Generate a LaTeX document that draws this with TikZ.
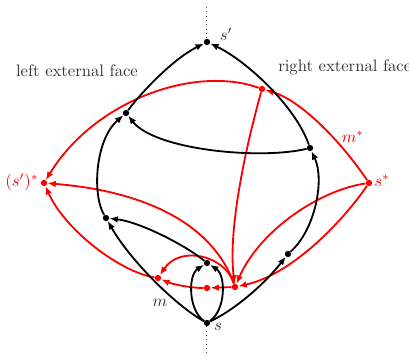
\documentclass[tikz,border=0pt]{standalone}
\usetikzlibrary{arrows.meta}
\begin{document}
\begin{tikzpicture}[x=0.6pt,y=-0.6pt,
  bdot/.style={circle,fill=black,inner sep=0pt,minimum size=3.8pt},
  rdot/.style={circle,fill=red,inner sep=0pt,minimum size=3.8pt},
  bedge/.style={line width=1.1pt,-{Latex[length=5pt,width=4pt]}},
  redge/.style={red,line width=1.1pt,-{Latex[length=5pt,width=4pt]}},
  lbl/.style={text=black!80,inner sep=0pt},
  rlbl/.style={text=red,inner sep=0pt}]
\useasboundingbox (0,0) rectangle (409,356);
% red vertices
\node[rdot] (Ss) at (369,183) {};
\node[rdot] (Sps) at (44,183) {};
\node[rdot] (R1) at (262,89) {};
\node[rdot] (R2) at (235,287) {};
\node[rdot] (R3) at (207,288) {};
\node[rdot] (R4) at (158,278) {};
% black vertices
\node[bdot] (s) at (207,323) {};
\node[bdot] (sp) at (207,42) {};
\node[bdot] (A) at (106,218) {};
\node[bdot] (B) at (126,113) {};
\node[bdot] (C) at (310,148) {};
\node[bdot] (D) at (288,254) {};
\node[bdot] (E) at (207,263) {};
\coordinate (bot) at (207,356);
\coordinate (top) at (207,4);
% dotted axis
\draw[dotted,black!70,line width=0.6pt] (s) -- (bot);
\draw[dotted,black!70,line width=0.6pt] (sp) -- (top);
% red edges
\draw[redge] (Ss) .. controls (340,140) and (300,100) .. (R1);
\draw[redge] (R1) .. controls (195,65) and (95,100) .. (Sps);
\draw[redge] (R1) .. controls (245,150) and (228,230) .. (R2);
\draw[redge] (Ss) .. controls (320,190) and (260,230) .. (R2);
\draw[redge] (Ss) .. controls (340,225) and (290,275) .. (R2);
\draw[redge] (R2) .. controls (215,230) and (155,192) .. (Sps);
\draw[redge] (R2) -- (R3);
\draw[redge] (R3) .. controls (190,288) and (172,284) .. (R4);
\draw[redge] (R2) .. controls (225,255) and (180,245) .. (R4);
\draw[redge] (R4) .. controls (120,272) and (65,230) .. (Sps);
% black edges
\draw[bedge] (s) .. controls (175,305) and (130,260) .. (A);
\draw[bedge] (A) .. controls (92,195) and (95,140) .. (B);
\draw[bedge] (B) .. controls (145,88) and (175,58) .. (sp);
\draw[bedge] (C) .. controls (295,105) and (245,60) .. (sp);
\draw[bedge] (s) .. controls (238,308) and (266,282) .. (D);
\draw[bedge] (D) .. controls (315,230) and (325,180) .. (C);
\draw[bedge] (C) .. controls (260,160) and (155,150) .. (B);
\draw[bedge] (E) .. controls (185,245) and (140,222) .. (A);
\draw[bedge] (s) .. controls (188,310) and (188,275) .. (E);
\draw[bedge] (s) .. controls (226,310) and (226,275) .. (E);
% labels
\node[lbl] (lsp) at (226,34) {$s'$};
\node[lbl] (ls) at (218,327) {$s$};
\node[lbl] (lm) at (160,303) {$m$};
\node[rlbl] (lms) at (353,137) {$m^*$};
\node[rlbl] (lss) at (382,181) {$s^*$};
\node[rlbl] (lsps) at (22,182) {$(s')^*$};
\node[lbl] (lef) at (77,71) {left external face};
\node[lbl,anchor=west] (ref) at (278,67) {right external face};
\end{tikzpicture}
\end{document}
